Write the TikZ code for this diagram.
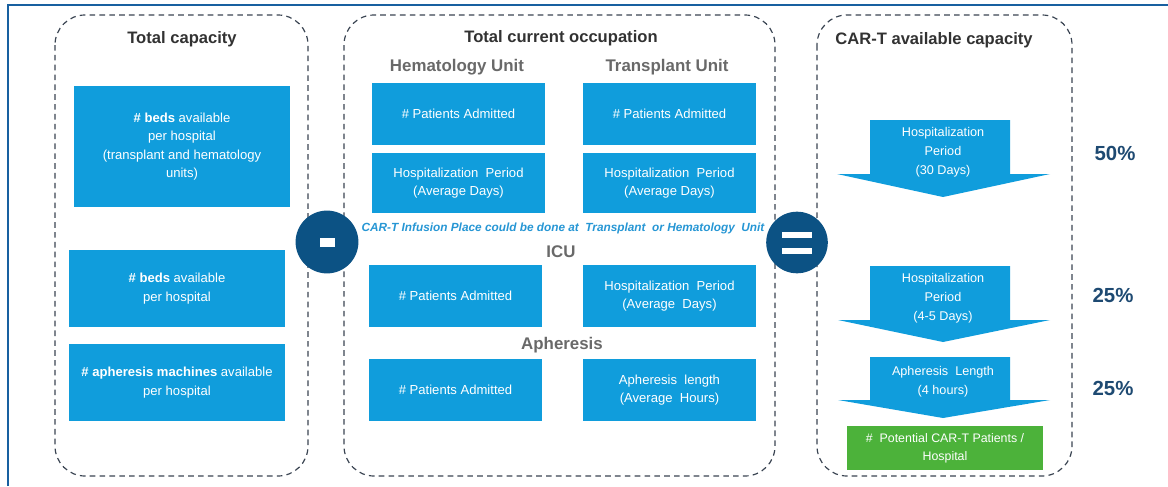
\documentclass[tikz,border=0pt]{standalone}
\usepackage{fontspec}
\setmainfont{Liberation Sans}
\usepackage{tikz}

\definecolor{boxblue}{RGB}{16,157,220}
\definecolor{circblue}{RGB}{12,82,132}
\definecolor{pctblue}{RGB}{30,74,114}
\definecolor{dashgray}{RGB}{58,68,82}
\definecolor{titlegray}{RGB}{50,50,50}
\definecolor{subgray}{RGB}{105,105,105}
\definecolor{infoblue}{RGB}{38,150,212}
\definecolor{potgreen}{RGB}{76,178,58}
\definecolor{edgeblue}{RGB}{24,96,160}

\tikzset{
  panel/.style={draw=dashgray, dash pattern=on 4pt off 3pt, line width=0.85pt, rounded corners=0.75cm},
  bluebox/.style={fill=boxblue, text=white, align=center, inner sep=0pt,
    font=\fontsize{9.3}{13}\selectfont},
  arrowtext/.style={text=white, align=center, font=\fontsize{9}{13.5}\selectfont},
  paneltitle/.style={text=titlegray, font=\bfseries\fontsize{11.8}{14}\selectfont},
  unittitle/.style={text=subgray, font=\bfseries\fontsize{12}{14}\selectfont},
  pct/.style={text=pctblue, font=\bfseries\fontsize{14.5}{16}\selectfont}
}

\begin{document}
\begin{tikzpicture}[x=0.025cm, y=-0.025cm]
        \useasboundingbox (0,0) rectangle (1168,486);

        % outer frame
        \draw [edgeblue, line width=1.4pt] (8,486) -- (8,5) -- (1168,5);

        % the three panels
        \draw [panel] (55,15) rectangle (308,476);
        \draw [panel] (344,15) rectangle (775,476);
        \draw [panel] (817,15) rectangle (1072,476);

        \node [paneltitle] (tcap) at (182,39) {Total capacity};
        \node [paneltitle] (tocc) at (561,38) {Total current occupation};
        \node [paneltitle] (tcar) at (934,40) {CAR-T available capacity};

        % total capacity
        \node [bluebox, minimum width=5.4cm, minimum height=3.025cm] (cap1) at (182,146.5)
          {\textbf{\# beds} available\\per hospital\\(transplant and hematology\\units)};
        \node [bluebox, minimum width=5.4cm, minimum height=1.925cm] (cap2) at (177,288.5)
          {\textbf{\# beds} available\\per hospital};
        \node [bluebox, minimum width=5.4cm, minimum height=1.925cm] (cap3) at (177,382.5)
          {\textbf{\# apheresis machines} available\\per hospital};

        % total current occupation
        \node [unittitle] (hemu) at (457,67) {Hematology Unit};
        \node [unittitle] (trnu) at (667,67) {Transplant Unit};

        \node [bluebox, minimum width=4.325cm, minimum height=1.55cm] (hem1) at (458.5,114) {\# Patients Admitted};
        \node [bluebox, minimum width=4.325cm, minimum height=1.55cm] (trn1) at (669.5,114) {\# Patients Admitted};
        \node [bluebox, minimum width=4.325cm, minimum height=1.5cm] (hem2) at (458.5,183)
          {Hospitalization\ \ Period\\(Average Days)};
        \node [bluebox, minimum width=4.325cm, minimum height=1.5cm] (trn2) at (669.5,183)
          {Hospitalization\ \ Period\\(Average Days)};

        \node [text=infoblue, font=\bfseries\itshape\fontsize{8.4}{10}\selectfont] (infu) at (563,228)
          {CAR-T Infusion Place could be done at\ \ Transplant\ \ or Hematology\ \ Unit};

        \node [unittitle] (icu) at (561,252) {ICU};
        \node [bluebox, minimum width=4.325cm, minimum height=1.55cm] (icu1) at (455.5,296) {\# Patients Admitted};
        \node [bluebox, minimum width=4.325cm, minimum height=1.55cm] (icu2) at (669.5,296)
          {Hospitalization\ \ Period\\(Average\ \ Days)};

        \node [unittitle] (aphl) at (562,345) {Apheresis};
        \node [bluebox, minimum width=4.325cm, minimum height=1.55cm] (aph1) at (455.5,390) {\# Patients Admitted};
        \node [bluebox, minimum width=4.325cm, minimum height=1.55cm] (aph2) at (669.5,390)
          {Apheresis\ \ length\\(Average\ \ Hours)};

        % minus and equals
        \fill [circblue] (327,242) circle [radius=0.785cm];
        \fill [white] (319.5,237.5) rectangle (334.5,246.5);
        \fill [circblue] (797,242.5) circle [radius=0.77cm];
        \fill [white] (782,232) rectangle (812,238);
        \fill [white] (782,248) rectangle (812,254);

        % CAR-T available capacity
        \fill [boxblue] (870,120) -- (1010,120) -- (1010,174) -- (1050,174)
          -- (943,197) -- (837,174) -- (870,174) -- cycle;
        \node [arrowtext] (arr1) at (943,152) {Hospitalization\\Period\\(30 Days)};

        \fill [boxblue] (870,266) -- (1010,266) -- (1010,320) -- (1050,320)
          -- (943,342) -- (838,320) -- (870,320) -- cycle;
        \node [arrowtext] (arr2) at (943,298) {Hospitalization\\Period\\(4-5 Days)};

        \fill [boxblue] (870,357) -- (1010,357) -- (1010,400) -- (1050,400)
          -- (943,418) -- (838,400) -- (870,400) -- cycle;
        \node [arrowtext] (arr3) at (943,382) {Apheresis\ \ Length\\(4 hours)};

        \node [fill=potgreen, text=white, align=center, inner sep=0pt,
          minimum width=4.9cm, minimum height=1.1cm,
          font=\fontsize{8.8}{13}\selectfont] (potn) at (945,448)
          {\#\ \ Potential CAR-T Patients /\\Hospital};

        \node [pct] (p50) at (1115,153) {50\%};
        \node [pct] (p25a) at (1113,295) {25\%};
        \node [pct] (p25b) at (1113,388) {25\%};
    \end{tikzpicture}
\end{document}
